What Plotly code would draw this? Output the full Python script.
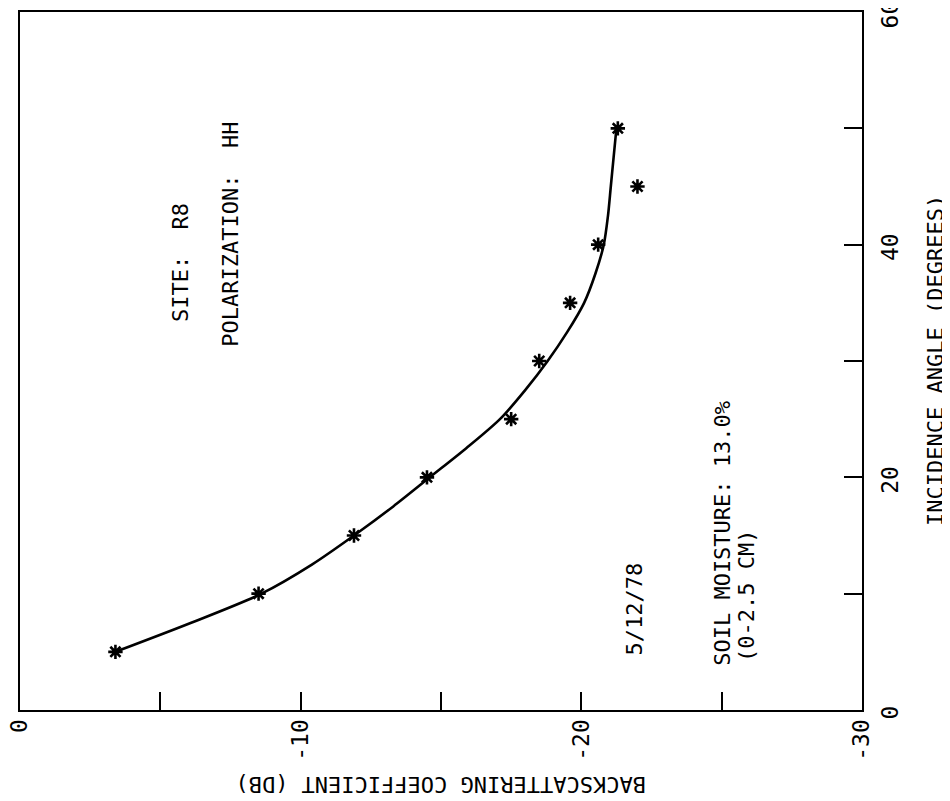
import plotly.graph_objects as go

# measured points: incidence angle (deg) vs backscattering coefficient (dB)
angle_pts = [5, 10, 15, 20, 25, 30, 35, 40, 45, 50]
sigma_pts = [-3.4, -8.5, -11.9, -14.5, -17.5, -18.5, -19.6, -20.6, -22.0, -21.3]

# fitted curve
curve_angle = [5, 7.5, 10, 12.5, 15, 17.5, 20, 22.5, 25, 27.5, 30, 32.5, 35, 37.5, 40,
               42.5, 45, 47.5, 50]
curve_sigma = [-3.4, -6.1, -8.6, -10.4, -11.9, -13.3, -14.6, -15.9, -17.1, -18.0, -18.8,
               -19.5, -20.1, -20.5, -20.8, -20.95, -21.05, -21.15, -21.25]

sigma_ticks = [0, -5, -10, -15, -20, -25, -30]
sigma_ticktext = ["0", "", "-10", "", "-20", "", "-30"]
angle_ticks = [0, 10, 20, 30, 40, 50, 60]
angle_ticktext = ["0", "", "20", "", "40", "", "60"]

FONT = "DejaVu Sans Mono"
fs = 22
tfs = 23

fig = go.Figure()
fig.add_trace(go.Scatter(x=curve_sigma, y=curve_angle, mode="lines",
                         line=dict(color="black", width=2.6, shape="spline", smoothing=0.8),
                         hoverinfo="skip", showlegend=False))
fig.add_trace(go.Scatter(x=sigma_pts, y=angle_pts, mode="markers",
                         marker=dict(symbol="asterisk-open", size=12, color="black",
                                     line=dict(color="black", width=2.6)),
                         showlegend=False))

notes = [
    ("SITE:  R8", -5.7, 38.5),
    ("POLARIZATION:  HH", -7.5, 40.9),
    ("5/12/78", -21.9, 8.7),
    ("SOIL MOISTURE: 13.0%", -25.0, 15.2),
    ("(0-2.5 CM)", -25.9, 9.8),
]
for txt, xx, yy in notes:
    fig.add_annotation(x=xx, y=yy, xref="x", yref="y", text=txt, showarrow=False,
                       textangle=-90, xanchor="center", yanchor="middle",
                       font=dict(family=FONT, size=fs, color="black"))

fig.add_annotation(x=0.5, y=-0.107, xref="paper", yref="paper",
                   text="BACKSCATTERING COEFFICIENT (DB)", showarrow=False,
                   textangle=180, xanchor="center", yanchor="middle",
                   font=dict(family=FONT, size=fs, color="black"))
fig.add_annotation(x=1.0867, y=0.5, xref="paper", yref="paper",
                   text="INCIDENCE ANGLE (DEGREES)", showarrow=False,
                   textangle=-90, xanchor="center", yanchor="middle",
                   font=dict(family=FONT, size=fs, color="black"))

fig.update_layout(
    width=950, height=801,
    margin=dict(l=12, r=96, t=4, b=99),
    paper_bgcolor="white", plot_bgcolor="white",
    xaxis=dict(range=[0, -30], tickvals=sigma_ticks, ticktext=sigma_ticktext,
               ticks="inside", ticklen=18, tickwidth=2, tickcolor="black",
               tickangle=-90, showgrid=False, zeroline=False, automargin=False,
               ticklabelstandoff=-2, ticklabeloverflow="allow",
               showline=True, linecolor="black", linewidth=2, mirror=True,
               tickfont=dict(family=FONT, size=tfs, color="black")),
    yaxis=dict(range=[0, 60], tickvals=angle_ticks, ticktext=angle_ticktext,
               side="right", ticks="inside", ticklen=18, tickwidth=2, tickcolor="black",
               tickangle=-90, showgrid=False, zeroline=False, automargin=False,
               ticklabelstandoff=6, ticklabelshift=6, ticklabeloverflow="allow",
               showline=True, linecolor="black", linewidth=2, mirror=True,
               tickfont=dict(family=FONT, size=tfs, color="black")),
)

fig.write_html("out.html")
